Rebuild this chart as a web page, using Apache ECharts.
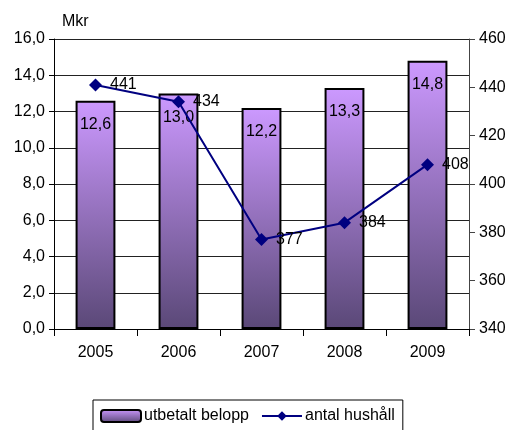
<!DOCTYPE html>
<html>
<head>
<meta charset="utf-8">
<script src="https://cdn.jsdelivr.net/npm/echarts@6/dist/echarts.min.js"></script>
<style>
    html, body { margin: 0; padding: 0; background: #fff; }
    #chart { width: 511px; height: 430px; }
</style>
</head>
<body>
<div id="chart"></div>
<script>
// Data
var years = ['2005', '2006', '2007', '2008', '2009'];
var utbetaltBelopp = [12.6, 13.0, 12.2, 13.3, 14.8];
var antalHushall = [441, 434, 377, 384, 408];

var fontName = '"Liberation Sans Narrow", "Liberation Sans", Arial, sans-serif';

// Swedish decimal comma
var comma = function (v) {
    return Number(v).toFixed(1).replace('.', ',');
};

var barColor = new echarts.graphic.LinearGradient(0, 0, 0, 1, [
    { offset: 0, color: '#CC99FF' },
    { offset: 1, color: '#5A4877' }
]);

var chart = echarts.init(document.getElementById('chart'));

chart.setOption({
    animation: false,
    textStyle: {
        fontFamily: fontName,
        fontSize: 16,
        color: '#000'
    },
    grid: {
        left: 54,
        right: 42,
        top: 39,
        bottom: 101
    },
    legend: {
        bottom: -14,
        left: 93,
        width: 337,
        itemWidth: 40,
        itemHeight: 12,
        itemGap: 12,
        padding: [8, 8, 20, 7],
        borderColor: '#000',
        borderWidth: 1,
        backgroundColor: '#fff',
        textStyle: { fontFamily: fontName, fontSize: 16, color: '#000', padding: [0, 0, 0, -2] },
        data: ['utbetalt belopp', 'antal hushåll']
    },
    xAxis: [{
        type: 'category',
        data: years,
        axisLine: { lineStyle: { color: '#000', width: 1 } },
        axisTick: { show: true, length: 7, lineStyle: { color: '#000' } },
        axisLabel: { color: '#000', fontSize: 16, margin: 16, fontFamily: fontName }
    }],
    yAxis: [{
        type: 'value',
        min: 0,
        max: 16,
        interval: 2,
        name: 'Mkr',
        nameLocation: 'end',
        nameGap: 9,
        nameTextStyle: { align: 'left', padding: [0, 0, 0, 8], fontSize: 16, color: '#000', fontFamily: fontName },
        axisLine: { show: true, lineStyle: { color: '#000' } },
        axisTick: { show: true, length: 5, lineStyle: { color: '#000' } },
        axisLabel: { color: '#000', fontSize: 16, margin: 9, formatter: comma, fontFamily: fontName },
        splitLine: { show: true, lineStyle: { color: '#222', width: 1 } }
    }, {
        type: 'value',
        min: 340,
        max: 460,
        interval: 20,
        position: 'right',
        axisLine: { show: true, lineStyle: { color: '#444' } },
        axisTick: { show: true, length: 6, lineStyle: { color: '#444' } },
        axisLabel: { color: '#000', fontSize: 16, margin: 10, fontFamily: fontName },
        splitLine: { show: false }
    }],
    series: [{
        name: 'utbetalt belopp',
        type: 'bar',
        yAxisIndex: 0,
        data: utbetaltBelopp,
        barWidth: '48%',
        itemStyle: {
            color: barColor,
            borderColor: '#000',
            borderWidth: 2
        },
        label: {
            show: true,
            position: 'insideTop',
            distance: 16,
            color: '#000',
            fontSize: 16,
            fontFamily: fontName,
            formatter: function (p) { return comma(p.value); }
        }
    }, {
        name: 'antal hushåll',
        type: 'line',
        yAxisIndex: 1,
        data: antalHushall,
        symbol: 'diamond',
        symbolSize: 13,
        lineStyle: { color: '#000080', width: 2 },
        itemStyle: { color: '#000080' },
        label: {
            show: true,
            position: 'right',
            distance: 8,
            color: '#000',
            fontSize: 16,
            fontFamily: fontName
        },
        z: 3
    }]
});
</script>
</body>
</html>
